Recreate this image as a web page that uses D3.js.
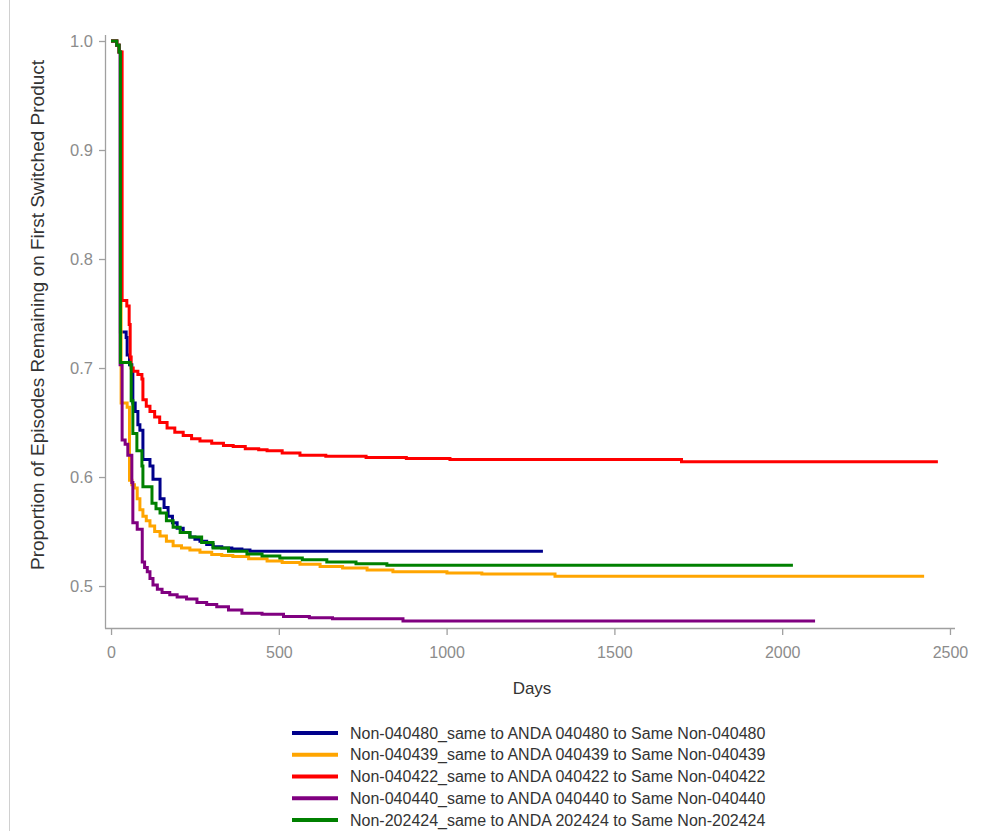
<!DOCTYPE html>
<html>
<head>
<meta charset="utf-8">
<script src="https://cdn.jsdelivr.net/npm/d3@7"></script>
<style>
  html, body { margin: 0; padding: 0; background: #fff; }
  svg { display: block; }
  text { font-family: "Liberation Sans", Arial, sans-serif; }
</style>
</head>
<body>
<svg id="chart" width="982" height="831"></svg>
<script>
// ---- data ----
const seriesNames = [
  "Non-040480_same to ANDA 040480 to Same Non-040480",
  "Non-040439_same to ANDA 040439 to Same Non-040439",
  "Non-040422_same to ANDA 040422 to Same Non-040422",
  "Non-040440_same to ANDA 040440 to Same Non-040440",
  "Non-202424_same to ANDA 202424 to Same Non-202424"
];
const seriesColors = ["#00008B", "#FFA500", "#FF0000", "#800080", "#008000"];

const days040480 = [0, 17, 24, 28, 45, 48, 55, 62, 65, 72, 80, 86, 95, 116, 125, 146, 158, 170, 183, 197, 215, 235, 250, 265, 285, 304, 330, 360, 390, 414, 1287];
const surv040480 = [1.0, 0.996, 0.99, 0.733, 0.728, 0.712, 0.703, 0.695, 0.668, 0.66, 0.648, 0.643, 0.616, 0.61, 0.598, 0.58, 0.572, 0.564, 0.558, 0.553, 0.549, 0.545, 0.543, 0.541, 0.538, 0.536, 0.535, 0.534, 0.533, 0.532, 0.532];

const days040439 = [0, 17, 24, 30, 48, 55, 62, 70, 78, 86, 95, 105, 116, 130, 146, 165, 185, 210, 235, 265, 300, 330, 363, 410, 465, 510, 563, 623, 690, 763, 840, 1001, 1105, 1323, 2423];
const surv040439 = [1.0, 0.996, 0.99, 0.668, 0.664, 0.597, 0.593, 0.59, 0.58, 0.57, 0.564, 0.56, 0.555, 0.55, 0.546, 0.541, 0.537, 0.535, 0.533, 0.531, 0.529, 0.528, 0.527, 0.525, 0.523, 0.5215, 0.52, 0.518, 0.5165, 0.5147, 0.513, 0.512, 0.511, 0.509, 0.509];

const days040422 = [0, 17, 24, 33, 47, 54, 57, 60, 66, 80, 92, 95, 105, 116, 130, 145, 167, 190, 215, 240, 265, 300, 335, 364, 400, 440, 465, 510, 563, 640, 760, 880, 1010, 1700, 2464];
const surv040422 = [1.0, 0.996, 0.99, 0.762, 0.757, 0.74, 0.71, 0.70, 0.697, 0.694, 0.69, 0.671, 0.665, 0.66, 0.655, 0.65, 0.645, 0.641, 0.638, 0.635, 0.633, 0.631, 0.629, 0.628, 0.626, 0.625, 0.624, 0.622, 0.620, 0.619, 0.618, 0.617, 0.616, 0.614, 0.614];

const days040440 = [0, 17, 24, 27, 33, 42, 50, 62, 65, 78, 93, 100, 108, 116, 125, 138, 152, 175, 197, 225, 256, 285, 315, 350, 390, 450, 514, 591, 660, 870, 2098];
const surv040440 = [1.0, 0.996, 0.99, 0.703, 0.634, 0.63, 0.62, 0.595, 0.558, 0.552, 0.522, 0.517, 0.513, 0.507, 0.501, 0.497, 0.494, 0.492, 0.49, 0.488, 0.485, 0.483, 0.481, 0.478, 0.475, 0.474, 0.472, 0.471, 0.470, 0.468, 0.468];

const days202424 = [0, 17, 24, 28, 57, 60, 65, 77, 92, 95, 122, 134, 146, 165, 185, 206, 235, 270, 304, 350, 405, 450, 503, 570, 643, 730, 822, 2032];
const surv202424 = [1.0, 0.996, 0.99, 0.705, 0.703, 0.67, 0.64, 0.624, 0.61, 0.591, 0.576, 0.571, 0.567, 0.56, 0.554, 0.549, 0.545, 0.54, 0.535, 0.532, 0.5295, 0.5275, 0.5257, 0.524, 0.522, 0.5205, 0.519, 0.519];

const xTicks = [0, 500, 1000, 1500, 2000, 2500];
const yTicks = [0.5, 0.6, 0.7, 0.8, 0.9, 1.0];
const xTitle = "Days";
const yTitle = "Proportion of Episodes Remaining on First Switched Product";

const allDays = [days040480, days040439, days040422, days040440, days202424];
const allSurv = [surv040480, surv040439, surv040422, surv040440, surv202424];
const series = seriesNames.map((name, i) => ({
  name, color: seriesColors[i],
  points: allDays[i].map((d, j) => ({ d, v: allSurv[i][j] }))
}));

// ---- layout ----
const svg = d3.select("#chart");
const x = d3.scaleLinear().domain([-18, 2515]).range([105, 955]);
const y = d3.scaleLinear().domain([0.4615, 1.0055]).range([628, 35]);

// left frame line
svg.append("line").attr("x1", 9.5).attr("x2", 9.5).attr("y1", 0).attr("y2", 831)
  .attr("stroke", "#d0d0d0").attr("stroke-width", 1);

const axisColor = "#a0a0a0";
const labelColor = "#8c8c8c";

// y axis
const yAxis = svg.append("g").attr("transform", "translate(105,0)")
  .call(d3.axisLeft(y).tickValues(yTicks).tickFormat(d3.format(".1f")).tickSize(6).tickPadding(6));
// x axis
const xAxis = svg.append("g").attr("transform", "translate(0,628)")
  .call(d3.axisBottom(x).tickValues(xTicks).tickFormat(d3.format("d")).tickSize(7).tickPadding(12));

[yAxis, xAxis].forEach(g => {
  g.select(".domain").attr("stroke", axisColor).attr("stroke-width", 1.3);
  g.selectAll(".tick line").attr("stroke", axisColor).attr("stroke-width", 1.3);
  g.selectAll(".tick text").attr("fill", labelColor)
    .style("font-family", "'Liberation Sans', Arial, sans-serif");
});
yAxis.selectAll(".tick text").style("font-size", "16.5px");
xAxis.selectAll(".tick text").style("font-size", "16px");
yAxis.select(".domain").attr("d", "M0.5,35V628.5");
xAxis.select(".domain").attr("d", "M105,0.5H955");

// axis titles
svg.append("text").attr("x", 532).attr("y", 694).attr("text-anchor", "middle")
  .attr("fill", "#333").style("font-size", "17px").text(xTitle);
svg.append("text").attr("transform", "translate(44,315) rotate(-90)").attr("text-anchor", "middle")
  .attr("fill", "#333").style("font-size", "19px").text(yTitle);

// curves
const line = d3.line().x(p => x(p.d)).y(p => y(p.v)).curve(d3.curveStepAfter);
svg.append("g").selectAll("path").data(series).join("path")
  .attr("d", s => line(s.points))
  .attr("fill", "none").attr("stroke", s => s.color).attr("stroke-width", 3)
  .attr("stroke-linejoin", "miter");

// legend
const legend = svg.append("g");
const legY = d3.scalePoint().domain(seriesNames).range([733, 820]);
const items = legend.selectAll("g").data(series).join("g")
  .attr("transform", s => `translate(0,${legY(s.name)})`);
items.append("line").attr("x1", 292).attr("x2", 338).attr("y1", 0).attr("y2", 0)
  .attr("stroke", s => s.color).attr("stroke-width", 4);
items.append("text").attr("x", 350).attr("y", 0).attr("dy", "0.35em")
  .attr("fill", "#333").style("font-size", "16px").text(s => s.name);
</script>
</body>
</html>
